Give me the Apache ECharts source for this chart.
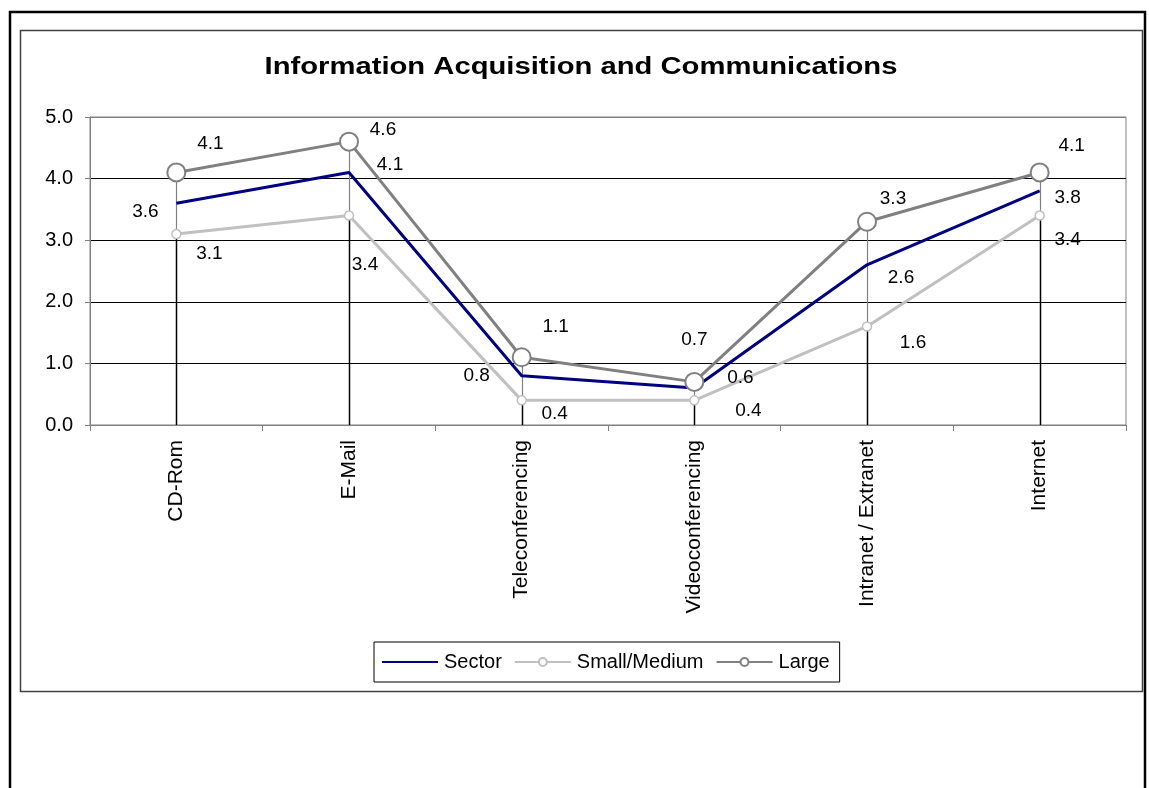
<!DOCTYPE html>
<html>
<head>
<meta charset="utf-8">
<script src="https://cdn.jsdelivr.net/npm/echarts@6/dist/echarts.min.js"></script>
<style>
  html, body { margin: 0; padding: 0; background: #fff; }
  #chart { width: 1149px; height: 788px; }
</style>
</head>
<body>
<div id="chart"></div>
<script>
// Survey scores by technology, broken out by firm size
const chartTitle = 'Information Acquisition and Communications';
const categories = ['CD-Rom', 'E-Mail', 'Teleconferencing', 'Videoconferencing', 'Intranet / Extranet', 'Internet'];
const sector = [3.6, 4.1, 0.8, 0.6, 2.6, 3.8];
const smallMedium = [3.1, 3.4, 0.4, 0.4, 1.6, 3.4];
const large = [4.1, 4.6, 1.1, 0.7, 3.3, 4.1];
const yTicks = [0, 1, 2, 3, 4, 5];

// Label nudges (px) for each point's value label
const sectorLabelShift = [[-31, 9], [41, -8], [-45, 0], [46, -10], [34, 13], [28, 7]];
const smallLabelShift = [[33, 20], [16, 49], [33, 13], [54, 10], [46, 16], [28, 24]];
const largeLabelShift = [[34, -29], [34, -12], [34, -30], [0, -42], [26, -23], [32, -27]];

const FONT = 'Liberation Sans, Arial, sans-serif';
const labelText = { fontFamily: FONT, fontSize: 19, color: '#000' };

function withLabels(values, shifts) {
  return values.map((v, i) => ({ value: v, label: { offset: shifts[i] } }));
}

// Drop lines: black from the axis to the lowest series, grey between lowest and highest
const dropData = categories.map((c, i) => {
  const vals = [sector[i], smallMedium[i], large[i]];
  return [i, Math.min(...vals), Math.max(...vals)];
});

const chart = echarts.init(document.getElementById('chart'), null, { renderer: 'canvas' });

chart.setOption({
  animation: false,
  backgroundColor: '#fff',
  graphic: [
    { type: 'rect', shape: { x: 10, y: 12, width: 1135, height: 800 }, style: { fill: 'none', stroke: '#000', lineWidth: 2.5 }, z: -10 },
    { type: 'rect', shape: { x: 20.5, y: 30.5, width: 1122, height: 661 }, style: { fill: 'none', stroke: '#404040', lineWidth: 1.5 }, z: -10 },
    {
      type: 'text',
      x: 581,
      y: 68,
      scaleX: 1.27,
      style: {
        text: chartTitle,
        fontFamily: FONT,
        fontSize: 23,
        fontWeight: 'bold',
        fill: '#000',
        align: 'center',
        verticalAlign: 'middle'
      }
    }
  ],
  legend: {
    data: ['Sector', 'Small/Medium', 'Large'],
    left: 374,
    top: 642,
    orient: 'horizontal',
    itemWidth: 56,
    itemHeight: 10,
    itemGap: 12,
    padding: [10, 10, 10, 7],
    borderColor: '#000',
    borderWidth: 1,
    textStyle: { fontFamily: FONT, fontSize: 20, color: '#000', padding: [0, 0, 0, 1] }
  },
  grid: {
    left: 90,
    right: 23,
    top: 117,
    bottom: 363,
    show: true,
    borderColor: '#808080',
    borderWidth: 1,
    containLabel: false
  },
  xAxis: {
    type: 'category',
    data: categories,
    boundaryGap: true,
    axisLine: { lineStyle: { color: '#808080', width: 1 } },
    axisTick: { show: true, length: 6, lineStyle: { color: '#808080' } },
    axisLabel: { rotate: 90, margin: 15, interval: 0, fontFamily: FONT, fontSize: 21, color: '#000' },
    splitLine: { show: false }
  },
  yAxis: {
    type: 'value',
    min: 0,
    max: 5,
    interval: 1,
    axisLine: { show: true, lineStyle: { color: '#808080', width: 1 } },
    axisTick: { show: true, length: 5, lineStyle: { color: '#808080' } },
    axisLabel: {
      margin: 17,
      fontFamily: FONT,
      fontSize: 20,
      color: '#000',
      formatter: v => yTicks.includes(v) ? v.toFixed(1) : ''
    },
    splitLine: {
      show: true,
      lineStyle: { color: ['#808080', '#000', '#000', '#000', '#000', '#808080'], width: 1 }
    }
  },
  series: [
    {
      type: 'custom',
      name: 'drop',
      silent: true,
      z: 1,
      encode: { x: 0, y: [1, 2] },
      data: dropData,
      renderItem: (params, api) => {
        const i = api.value(0);
        const lo = api.value(1);
        const hi = api.value(2);
        const p0 = api.coord([i, 0]);
        const pl = api.coord([i, lo]);
        const ph = api.coord([i, hi]);
        const x = Math.round(p0[0]) + 0.5;
        return {
          type: 'group',
          children: [
            { type: 'line', shape: { x1: x, y1: p0[1], x2: x, y2: pl[1] }, style: { stroke: '#000', lineWidth: 1.5 } },
            { type: 'line', shape: { x1: x, y1: pl[1], x2: x, y2: ph[1] }, style: { stroke: '#808080', lineWidth: 1.2 } }
          ]
        };
      }
    },
    {
      name: 'Sector',
      type: 'line',
      z: 3,
      data: withLabels(sector, sectorLabelShift),
      symbol: 'circle',
      symbolSize: 1,
      showSymbol: true,
      itemStyle: { color: 'rgba(0,0,128,0)' },
      lineStyle: { color: '#000080', width: 3 },
      label: { show: true, position: 'inside', align: 'center', verticalAlign: 'middle', formatter: p => p.value.toFixed(1), ...labelText }
    },
    {
      name: 'Small/Medium',
      type: 'line',
      z: 2,
      data: withLabels(smallMedium, smallLabelShift),
      symbol: 'circle',
      symbolSize: 9,
      showSymbol: true,
      itemStyle: { color: '#fff', borderColor: '#C0C0C0', borderWidth: 1.5 },
      lineStyle: { color: '#C0C0C0', width: 3 },
      label: { show: true, position: 'inside', align: 'center', verticalAlign: 'middle', formatter: p => p.value.toFixed(1), ...labelText }
    },
    {
      name: 'Large',
      type: 'line',
      z: 4,
      data: withLabels(large, largeLabelShift),
      symbol: 'circle',
      symbolSize: 18,
      showSymbol: true,
      itemStyle: { color: '#fff', borderColor: '#808080', borderWidth: 2 },
      lineStyle: { color: '#808080', width: 3 },
      label: { show: true, position: 'inside', align: 'center', verticalAlign: 'middle', formatter: p => p.value.toFixed(1), ...labelText }
    }
  ]
});
</script>
</body>
</html>
